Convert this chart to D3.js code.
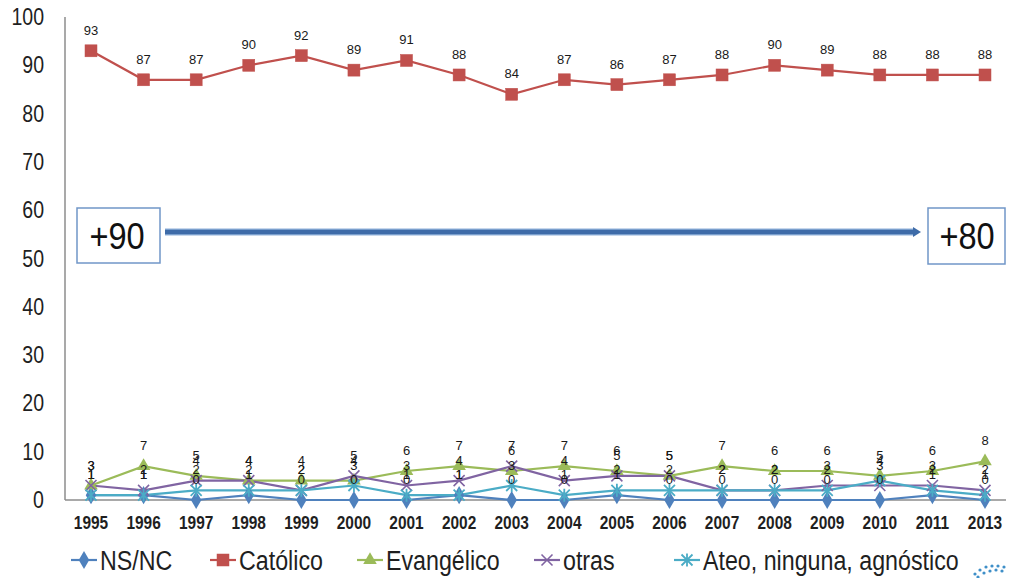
<!DOCTYPE html>
<html>
<head>
<meta charset="utf-8">
<script src="https://cdn.jsdelivr.net/npm/d3@7"></script>
<style>
  html, body { margin: 0; padding: 0; background: #fff; }
  svg { display: block; }
  text { font-family: "Liberation Sans", Arial, sans-serif; }
</style>
</head>
<body>
<svg id="chart" width="1009" height="578"></svg>
<script>
// ---- data ----
const years = ["1995","1996","1997","1998","1999","2000","2001","2002","2003","2004","2005","2006","2007","2008","2009","2010","2011","2013"];
const nsnc       = [1,1,0,1,0,0,0,1,0,0,1,0,0,0,0,0,1,0];
const catolico   = [93,87,87,90,92,89,91,88,84,87,86,87,88,90,89,88,88,88];
const evangelico = [3,7,5,4,4,4,6,7,6,7,6,5,7,6,6,5,6,8];
const otras      = [3,2,4,4,2,5,3,4,7,4,5,5,2,2,3,3,3,2];
const ateo       = [1,1,2,2,2,3,1,1,3,1,2,2,2,2,2,4,2,1];
const seriesNames = ["NS/NC","Católico","Evangélico","otras","Ateo, ninguna, agnóstico"];
const yTicks = [0,10,20,30,40,50,60,70,80,90,100];
const boxLabels = ["+90","+80"];

const series = [
  {name: seriesNames[0], values: nsnc,       color: "#4F81BD", marker: "diamond"},
  {name: seriesNames[1], values: catolico,   color: "#C0504D", marker: "square"},
  {name: seriesNames[2], values: evangelico, color: "#9BBB59", marker: "triangle"},
  {name: seriesNames[3], values: otras,      color: "#8064A2", marker: "x"},
  {name: seriesNames[4], values: ateo,       color: "#4BACC6", marker: "star"}
];

const svg = d3.select("#chart");
const x = d3.scalePoint().domain(years).range([91, 985]);
const y = d3.scaleLinear().domain([0, 100]).range([500, 17]);

function drawMarker(g, type, cx, cy, color) {
  if (type === "square") {
    g.append("rect").attr("x", cx - 6).attr("y", cy - 6).attr("width", 12).attr("height", 12)
      .attr("fill", color).attr("stroke", color).attr("stroke-width", 0.5);
  } else if (type === "diamond") {
    g.append("path").attr("d", d3.symbol(d3.symbolDiamond, 95)())
      .attr("transform", `translate(${cx},${cy})`).attr("fill", color);
  } else if (type === "triangle") {
    g.append("path").attr("d", d3.symbol(d3.symbolTriangle, 80)())
      .attr("transform", `translate(${cx},${cy})`).attr("fill", color);
  } else if (type === "x") {
    const r = 5.5;
    g.append("path").attr("d", `M${cx-r},${cy-r}L${cx+r},${cy+r}M${cx-r},${cy+r}L${cx+r},${cy-r}`)
      .attr("stroke", color).attr("stroke-width", 1.6).attr("fill", "none");
  } else if (type === "star") {
    const r = 5.5;
    g.append("path").attr("d", `M${cx-r},${cy-r}L${cx+r},${cy+r}M${cx-r},${cy+r}L${cx+r},${cy-r}M${cx},${cy-r-1}L${cx},${cy+r+1}`)
      .attr("stroke", color).attr("stroke-width", 1.8).attr("fill", "none");
  }
}

function sText(g, str, tx, ty, size, sx, anchor, fill, weight) {
  return g.append("text")
    .attr("transform", `translate(${tx},${ty}) scale(${sx},1)`)
    .attr("text-anchor", anchor)
    .attr("font-size", size)
    .attr("font-weight", weight || "normal")
    .attr("fill", fill)
    .text(str);
}

// ---- axes ----
const axisG = svg.append("g");
axisG.append("line").attr("x1", 65).attr("x2", 65).attr("y1", y(100)).attr("y2", y(0))
  .attr("stroke", "#8c8c8c").attr("stroke-width", 1.5);
axisG.append("line").attr("x1", 65).attr("x2", 1006).attr("y1", y(0)).attr("y2", y(0))
  .attr("stroke", "#8c8c8c").attr("stroke-width", 1.5);

yTicks.forEach(t => {
  sText(axisG, String(t), 44, y(t) + 8, 23, 0.85, "end", "#1f1f1f");
});
years.forEach(yr => {
  sText(axisG, yr, x(yr), 529, 18, 0.86, "middle", "#1f1f1f", "bold");
});

// ---- annotation boxes and arrow ----
const ann = svg.append("g");
ann.append("rect").attr("x", 77).attr("y", 208).attr("width", 83).attr("height", 55)
  .attr("fill", "#fff").attr("stroke", "#7096C8").attr("stroke-width", 1.5);
sText(ann, boxLabels[0], 117, 249, 37, 0.88, "middle", "#111");
ann.append("rect").attr("x", 928).attr("y", 208).attr("width", 77).attr("height", 56)
  .attr("fill", "#fff").attr("stroke", "#7096C8").attr("stroke-width", 1.5);
sText(ann, boxLabels[1], 967, 249, 37, 0.88, "middle", "#111");
ann.append("line").attr("x1", 165).attr("x2", 914).attr("y1", 232).attr("y2", 232)
  .attr("stroke", "#8FB0DA").attr("stroke-width", 7);
ann.append("line").attr("x1", 165).attr("x2", 914).attr("y1", 232).attr("y2", 232)
  .attr("stroke", "#3E6BA8").attr("stroke-width", 4.5);
ann.append("path").attr("d", "M913,227L921,232L913,237Z").attr("fill", "#3E6BA8");

// ---- series ----
const line = d3.line().x((d, i) => x(years[i])).y(d => y(d));
const plot = svg.append("g");
series.forEach(s => {
  plot.append("path").datum(s.values).attr("d", line)
    .attr("fill", "none").attr("stroke", s.color).attr("stroke-width", 2.2);
});
series.forEach(s => {
  s.values.forEach((v, i) => drawMarker(plot, s.marker, x(years[i]), y(v), s.color));
});
// data labels
const lab = svg.append("g");
series.forEach(s => {
  s.values.forEach((v, i) => {
    lab.append("text").attr("x", x(years[i])).attr("y", y(v) - 16)
      .attr("text-anchor", "middle").attr("font-size", 13).attr("fill", "#1a1a1a")
      .text(v);
  });
});

// ---- legend ----
const leg = svg.append("g");
const legX = [71, 210, 357, 534, 674];
series.forEach((s, i) => {
  const lx = legX[i], ly = 560;
  leg.append("line").attr("x1", lx).attr("x2", lx + 26).attr("y1", ly).attr("y2", ly)
    .attr("stroke", s.color).attr("stroke-width", 2.2);
  drawMarker(leg, s.marker, lx + 13, ly, s.color);
  sText(leg, s.name, lx + 29, ly + 10, 28, 0.83, "start", "#1f1f1f");
});

// ---- small logo dots (bottom-right corner) ----
const logo = svg.append("g");
[[975,574],[980,570],[986,567],[992,566],[998,566],[1004,567],[978,577],[984,573],[990,571],[996,570],[1002,571]]
  .forEach(p => logo.append("circle").attr("cx", p[0]).attr("cy", p[1]).attr("r", 1.6).attr("fill", "#3F8FC8"));
</script>
</body>
</html>
